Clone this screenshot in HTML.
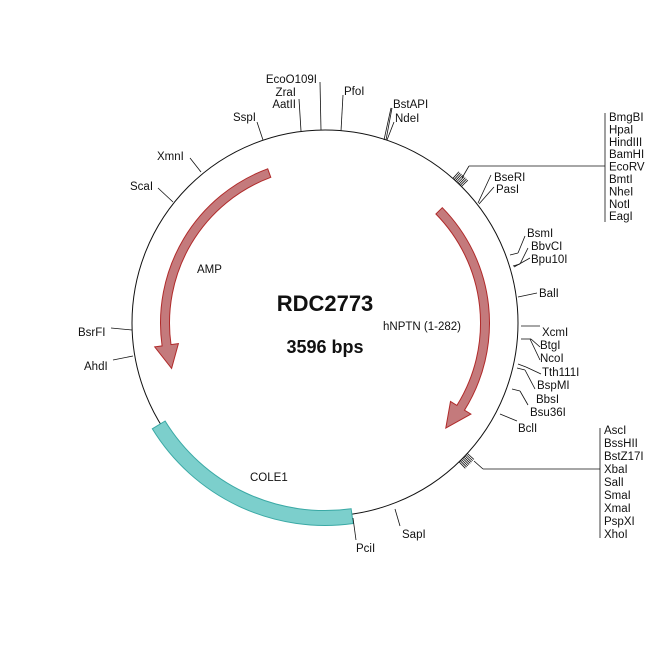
<!DOCTYPE html>
<html><head><meta charset="utf-8"><style>
html,body{margin:0;padding:0;background:#fff;}
svg{display:block;font-family:"Liberation Sans",Arial,sans-serif;}
text{font-size:11.5px;fill:#111;}
</style></head><body>
<svg id="s" width="650" height="650" viewBox="0 0 650 650" xmlns="http://www.w3.org/2000/svg">
<circle cx="325" cy="323" r="193" fill="none" stroke="#111" stroke-width="1"/>
<g id="feat"></g>
<g stroke="#111" stroke-width="0.8" fill="none">
<line x1="263" y1="140" x2="257" y2="122"/>
<line x1="301" y1="131" x2="299" y2="99"/>
<line x1="321" y1="130" x2="320" y2="82"/>
<line x1="341" y1="131" x2="343" y2="95"/>
<line x1="386" y1="140" x2="392" y2="108"/>
<line x1="387" y1="140" x2="394" y2="122"/>
<line x1="384" y1="140" x2="391" y2="108"/>
<line x1="462" y1="178" x2="469" y2="166"/>
<line x1="469" y1="166" x2="605" y2="166"/>
<line x1="605" y1="113" x2="605" y2="222"/>
<line x1="478" y1="203" x2="491" y2="175"/>
<line x1="479" y1="204" x2="494" y2="187"/>
<line x1="510" y1="255" x2="518" y2="253"/><line x1="518" y1="253" x2="525" y2="236"/>
<line x1="513" y1="266" x2="520" y2="264"/><line x1="520" y1="264" x2="528" y2="248"/>
<line x1="514" y1="267" x2="530" y2="258"/>
<line x1="518" y1="297" x2="537" y2="293"/>
<line x1="521" y1="326" x2="540" y2="326"/>
<line x1="521" y1="339" x2="531" y2="339"/><line x1="531" y1="339" x2="540" y2="347"/>
<line x1="530" y1="339" x2="540" y2="360"/>
<line x1="518" y1="364" x2="526" y2="367"/><line x1="526" y1="367" x2="541" y2="374"/>
<line x1="517" y1="368" x2="525" y2="370"/><line x1="525" y1="370" x2="535" y2="389"/>
<line x1="512" y1="389" x2="520" y2="391"/><line x1="520" y1="391" x2="528" y2="405"/>
<line x1="500" y1="414" x2="517" y2="421"/>
<line x1="474" y1="461" x2="483" y2="469"/>
<line x1="483" y1="469" x2="600" y2="469"/>
<line x1="600" y1="428" x2="600" y2="538"/>
<line x1="190" y1="158" x2="201" y2="172"/>
<line x1="158" y1="188" x2="173" y2="202"/>
<line x1="111" y1="328" x2="132" y2="330"/>
<line x1="113" y1="360" x2="133" y2="356"/>
<line x1="353" y1="518" x2="356" y2="540"/>
<line x1="395" y1="509" x2="400" y2="526"/>
</g>
<g id="ticks" stroke="#111" stroke-width="0.8"></g>
<text x="256" y="121" text-anchor="end">SspI</text>
<text x="317" y="83" text-anchor="end">EcoO109I</text>
<text x="296" y="96" text-anchor="end">ZraI</text>
<text x="296" y="108" text-anchor="end">AatII</text>
<text x="344" y="95">PfoI</text>
<text x="393" y="108">BstAPI</text>
<text x="395" y="122">NdeI</text>
<g>
<text x="609" y="121">BmgBI</text><text x="609" y="133.4">HpaI</text><text x="609" y="145.8">HindIII</text>
<text x="609" y="158.2">BamHI</text><text x="609" y="170.6">EcoRV</text><text x="609" y="183">BmtI</text>
<text x="609" y="195.4">NheI</text><text x="609" y="207.8">NotI</text><text x="609" y="220.2">EagI</text>
</g>
<text x="494" y="181">BseRI</text><text x="496" y="193">PasI</text>
<text x="527" y="237">BsmI</text><text x="531" y="250">BbvCI</text><text x="531" y="263">Bpu10I</text>
<text x="539" y="297">BalI</text>
<text x="542" y="336">XcmI</text><text x="540" y="349">BtgI</text><text x="540" y="362">NcoI</text>
<text x="542" y="376">Tth111I</text><text x="537" y="389">BspMI</text><text x="536" y="403">BbsI</text>
<text x="530" y="416">Bsu36I</text><text x="518" y="432">BclI</text>
<g>
<text x="604" y="434">AscI</text><text x="604" y="447">BssHII</text><text x="604" y="460">BstZ17I</text>
<text x="604" y="473">XbaI</text><text x="604" y="486">SalI</text><text x="604" y="499">SmaI</text>
<text x="604" y="512">XmaI</text><text x="604" y="525">PspXI</text><text x="604" y="538">XhoI</text>
</g>
<text x="157" y="160">XmnI</text>
<text x="130" y="190">ScaI</text>
<text x="78" y="336">BsrFI</text>
<text x="84" y="370">AhdI</text>
<text x="356" y="552">PciI</text>
<text x="402" y="538">SapI</text>
<text x="197" y="273">AMP</text>
<text x="250" y="481">COLE1</text>
<text x="383" y="330">hNPTN (1-282)</text>
<text x="325" y="311" text-anchor="middle" style="font-size:22px;font-weight:bold">RDC2773</text>
<text x="325" y="353" text-anchor="middle" style="font-size:18px;font-weight:bold">3596 bps</text>
</svg>
<script>
var cx=325,cy=323,NS="http://www.w3.org/2000/svg";
function P(r,a){a=a*Math.PI/180;return [cx+r*Math.sin(a),cy-r*Math.cos(a)];}
function f(p){return p[0].toFixed(1)+","+p[1].toFixed(1);}
function band(r,w,a1,a2){var ro=r+w/2,ri=r-w/2;var L=(a2-a1)>180?1:0;
return "M"+f(P(ro,a1))+" A"+ro+","+ro+" 0 "+L+" 1 "+f(P(ro,a2))+" L"+f(P(ri,a2))+" A"+ri+","+ri+" 0 "+L+" 0 "+f(P(ri,a1))+" Z";}
function arrow(r,w,hw,a1,ab,at){var ro=r+w/2,ri=r-w/2;var L=(ab-a1)>180?1:0;
return "M"+f(P(ro,a1))+" A"+ro+","+ro+" 0 "+L+" 1 "+f(P(ro,ab))+" L"+f(P(r+hw/2,ab))+" L"+f(P(r,at))+" L"+f(P(r-hw/2,ab))+" L"+f(P(ri,ab))+" A"+ri+","+ri+" 0 "+L+" 0 "+f(P(ri,a1))+" Z";}
var g=document.getElementById("feat");
function add(d,fill,st){var p=document.createElementNS(NS,"path");p.setAttribute("d",d);p.setAttribute("fill",fill);p.setAttribute("stroke",st);p.setAttribute("stroke-width","1");g.appendChild(p);}
add(band(195,15,172,238.5),"#7ccfcc","#3aa9a5");
add(arrow(160,9,24,45.5,122,131),"#c47a7c","#b02a2a");
(function(){var r=160,w=9,hw=24,a1=339.6,ab=262,at=253.5;var ro=r+w/2,ri=r-w/2;
var d="M"+f(P(ro,a1))+" A"+ro+","+ro+" 0 0 0 "+f(P(ro,ab))+" L"+f(P(r+hw/2,ab))+" L"+f(P(r,at))+" L"+f(P(r-hw/2,ab))+" L"+f(P(ri,ab))+" A"+ri+","+ri+" 0 0 1 "+f(P(ri,a1))+" Z";
add(d,"#c47a7c","#b02a2a");})();
var t=document.getElementById("ticks");
function tk(a,l){var p1=P(193,a),p2=P(193+l,a);var e=document.createElementNS(NS,"line");e.setAttribute("x1",p1[0]);e.setAttribute("y1",p1[1]);e.setAttribute("x2",p2[0]);e.setAttribute("y2",p2[1]);t.appendChild(e);}
for(var i=0;i<8;i++)tk(41.5+i*0.5,9);
for(var i=0;i<8;i++)tk(132.5+i*0.5,9);
</script>
</body></html>
